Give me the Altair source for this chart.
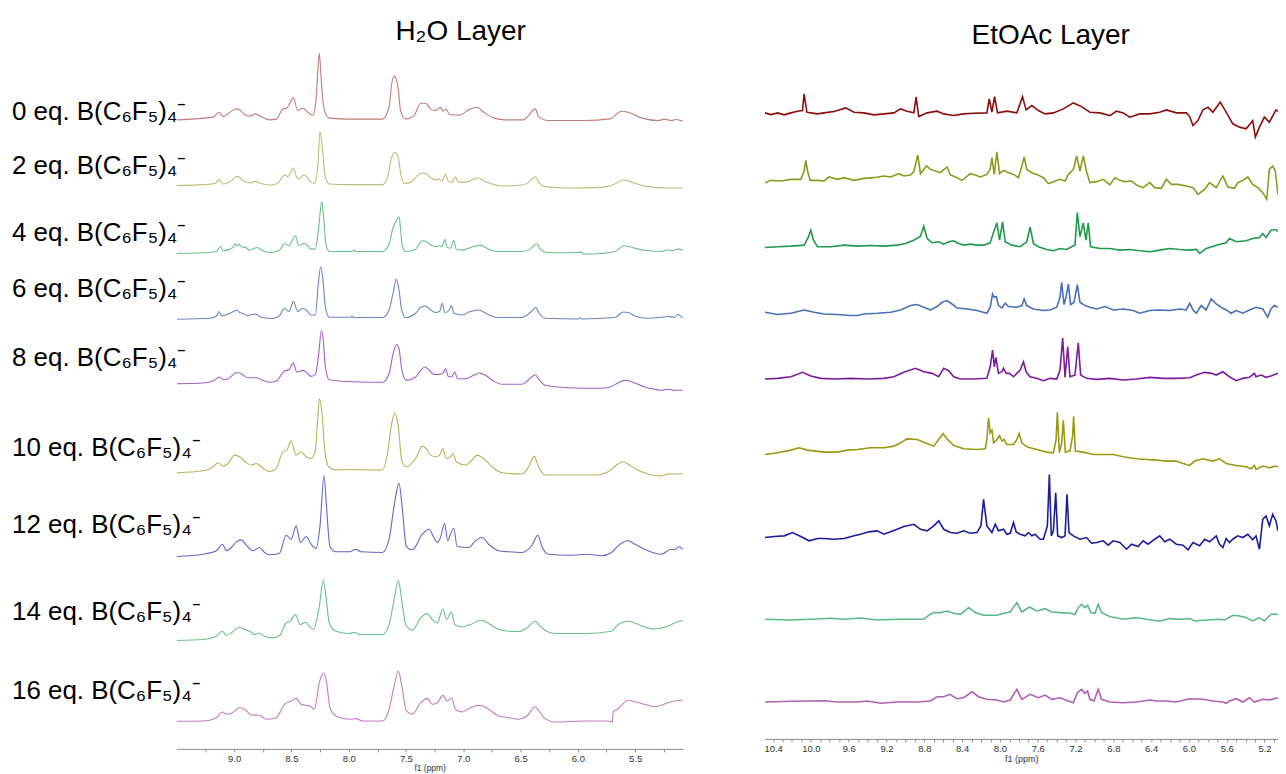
import altair as alt
import pandas as pd

# ---------------- H2O layer spectra: (ppm, intensity above own baseline) ----------------
H2O_0 = [(9.497,0),(9.184,2.7),(9.132,7.7),(9.097,3.3),(9.025,8.7),(8.981,11),(8.938,8.7),(8.909,5.3),
         (8.865,3.7),(8.813,6),(8.764,3.3),(8.691,0),(8.633,0.7),(8.575,11),(8.541,12),(8.483,22),(8.445,9.3),
         (8.401,11.7),(8.358,7.7),(8.314,4.3),(8.286,19),(8.272,45),(8.257,66.7),(8.243,45),(8.228,22),(8.213,10),
         (8.170,1.7),(7.996,0.7),(7.706,0.7),(7.648,12.7),(7.625,36),(7.606,44),(7.590,42),(7.567,30),(7.548,9.3),
         (7.503,1),(7.430,4.3),(7.372,16.7),(7.329,16.7),(7.286,11),(7.242,9.3),(7.199,12.7),(7.178,8.7),
         (7.149,10.7),(7.120,5.3),(7.039,4.7),(6.938,11),(6.880,12.7),(6.822,7.7),(6.735,2),(6.633,0),(6.474,0),
         (6.430,4.3),(6.372,11),(6.343,3.3),(6.257,-0.7),(5.938,-0.7),(5.720,1),(5.619,8.7),(5.561,7.7),
         (5.445,2),(5.300,-0.7),(5.242,0.7),(5.184,-0.7),(5.141,0.3),(5.083,-1.3)]
H2O_2 = [(9.50,0),(9.27,1),(9.17,2.3),(9.13,6),(9.10,1.7),(9.02,5),(8.996,8.3),(8.967,9.3),(8.938,6.7),
         (8.917,5),(8.865,2.7),(8.813,4.3),(8.778,2.7),(8.691,0.7),(8.633,1.7),(8.590,6.7),(8.561,10.7),
         (8.532,9.3),(8.483,17.7),(8.454,8.3),(8.430,6.7),(8.396,10.7),(8.367,9),(8.329,3.3),(8.300,2.3),
         (8.271,18.3),(8.251,54),(8.228,35),(8.204,8.3),(8.170,1.7),(7.981,1),(7.706,1),(7.662,8.3),
         (7.625,28.3),(7.596,33.3),(7.567,28.3),(7.546,11.7),(7.517,2.3),(7.459,3.3),(7.401,10),(7.364,12.7),
         (7.329,12.3),(7.286,8.3),(7.242,5.7),(7.213,6.7),(7.184,5),(7.155,11.7),(7.132,4.3),(7.097,3.3),
         (7.068,9),(7.045,3.3),(6.952,4.3),(6.909,6.7),(6.865,7.7),(6.822,5),(6.749,1.7),(6.662,-0.3),
         (6.488,0.7),(6.430,3.3),(6.372,9),(6.338,3.3),(6.286,-1),(6.083,-2.3),(5.793,-1.7),(5.677,1.7),
         (5.604,5.7),(5.561,5),(5.503,2.3),(5.387,-1),(5.213,-2.3),(5.083,-2.3)]
H2O_4 = [(9.50,-1),(9.27,-0.3),(9.155,1),(9.12,6),(9.097,1.7),(9.01,5),(8.996,8.3),(8.975,6.7),(8.958,8.3),
         (8.938,5.7),(8.90,5),(8.865,2.3),(8.801,5),(8.764,2.7),(8.691,0),(8.604,2.3),(8.561,9),(8.523,6.7),
         (8.465,16.7),(8.436,6.7),(8.393,9),(8.367,7.7),(8.329,3.3),(8.294,3.3),(8.265,21.7),(8.236,51),
         (8.219,35),(8.199,8.3),(8.170,1),(7.967,1),(7.952,2.3),(7.938,1),(7.706,1),(7.648,8.3),(7.613,25),
         (7.584,31.7),(7.561,35.7),(7.546,21.7),(7.532,6.7),(7.503,1),(7.416,3.3),(7.358,11.7),(7.323,11),
         (7.286,7.7),(7.242,5.7),(7.199,6.7),(7.184,5.7),(7.161,13.3),(7.141,5),(7.112,4.3),(7.083,12.3),
         (7.062,3.3),(7.010,2.3),(6.952,4.3),(6.851,7.3),(6.778,3.3),(6.691,1),(6.488,1),(6.416,3.3),
         (6.358,9),(6.329,3.3),(6.271,0),(6.083,-0.3),(5.967,0.3),(5.952,-1.7),(5.793,-1),(5.677,1),
         (5.590,6.7),(5.546,5.7),(5.503,4.3),(5.387,1.7),(5.271,1),(5.213,2.7),(5.184,1.7),(5.126,3.3),(5.083,2.3)]
H2O_6 = [(9.50,0),(9.213,1),(9.155,3.3),(9.132,7.7),(9.109,3.3),(9.025,6.7),(8.996,8.3),(8.972,9.3),
         (8.952,6.7),(8.923,6),(8.888,3.7),(8.813,5.3),(8.764,2),(8.662,0.7),(8.604,3.7),(8.561,11),(8.523,7.7),
         (8.483,17.7),(8.445,7.7),(8.401,11),(8.372,9.3),(8.329,4.3),(8.291,4.3),(8.268,32.7),(8.245,52.7),
         (8.228,42.7),(8.204,12.7),(8.170,2),(7.981,2),(7.972,3.3),(7.961,1.7),(7.706,1.7),(7.648,9.3),
         (7.613,26),(7.584,40),(7.561,29.3),(7.538,9.3),(7.503,1.7),(7.416,6),(7.372,12),(7.329,13.3),
         (7.286,9.3),(7.242,6.7),(7.207,7.7),(7.184,16),(7.161,6.7),(7.126,8.7),(7.103,13.7),(7.083,6),
         (7.010,4.3),(6.938,7.7),(6.865,9.3),(6.793,5.3),(6.706,1.7),(6.488,1.7),(6.416,6.7),(6.367,11.7),
         (6.338,6),(6.286,1),(5.996,0.3),(5.981,1.7),(5.967,0.3),(5.677,1.7),(5.604,7.3),(5.561,6.7),
         (5.503,3.3),(5.387,1),(5.271,2),(5.213,2.7),(5.155,2),(5.132,5),(5.083,1)]
H2O_8 = [(9.50,-0.7),(9.27,0),(9.184,2),(9.126,6),(9.091,3.3),(9.054,4),(8.981,10.3),(8.952,10),(8.880,5.3),
         (8.801,5.3),(8.764,3.3),(8.691,0.7),(8.633,2),(8.561,12),(8.523,13.3),(8.483,20),(8.454,11),
         (8.401,12.7),(8.372,11),(8.329,6.7),(8.291,8.7),(8.262,29.3),(8.239,52.7),(8.222,42.7),(8.204,16),
         (8.170,3.3),(7.967,1.3),(7.706,0.7),(7.648,9.3),(7.613,29.3),(7.584,38.7),(7.561,34.3),(7.538,14.3),
         (7.497,2.7),(7.416,6),(7.372,12.7),(7.335,16),(7.300,13.3),(7.257,8.7),(7.207,8.7),(7.178,10),
         (7.155,14.3),(7.132,6.7),(7.103,6),(7.074,11),(7.051,4.3),(6.981,4.3),(6.909,7.7),(6.859,10),
         (6.807,7.7),(6.735,2),(6.662,-1.3),(6.488,-1.3),(6.430,3.3),(6.372,8.3),(6.338,3.3),(6.286,-2.3),
         (6.083,-4.7),(5.851,-5.3),(5.735,-4.7),(5.662,-0.7),(5.590,2.7),(5.546,2),(5.503,0),(5.416,-4),
         (5.329,-6.3),(5.271,-7.3),(5.213,-6.3),(5.155,-7.3),(5.083,-7.3)]
H2O_10 = [(9.50,0),(9.27,2),(9.184,6),(9.141,10),(9.097,6.7),(9.054,9.3),(8.996,17.7),(8.952,16),(8.894,10),
          (8.851,7.7),(8.807,9.3),(8.764,6),(8.691,1),(8.633,4.3),(8.575,21),(8.541,22.7),(8.503,32),
          (8.459,17.7),(8.416,21),(8.372,16),(8.329,14.3),(8.294,21),(8.271,52.7),(8.257,74.3),(8.233,59.3),
          (8.210,22.7),(8.175,6),(8.112,2.7),(7.996,3.3),(7.706,2.7),(7.662,19.3),(7.625,49.3),(7.599,60),
          (7.567,46),(7.538,12.7),(7.497,6),(7.416,14.3),(7.358,26.7),(7.323,24.3),(7.286,17.7),(7.242,16),
          (7.207,17.7),(7.178,24.3),(7.149,14.3),(7.112,16),(7.088,19.3),(7.062,11),(6.981,7.7),(6.923,12.7),
          (6.880,17.7),(6.822,14.3),(6.749,6),(6.662,0),(6.488,-1.3),(6.430,6),(6.381,16.7),(6.343,6),
          (6.286,-2.3),(6.083,-2.3),(5.851,-2.3),(5.735,1),(5.662,7.7),(5.604,11),(5.561,8.7),(5.503,4.3),
          (5.387,-1.3),(5.271,-3.3),(5.213,-1.3),(5.155,-1.3),(5.083,-0.7)]
H2O_12 = [(9.50,0),(9.27,2.3),(9.155,5.7),(9.103,12.3),(9.068,5.7),(9.025,9),(8.981,14.7),(8.938,16.7),
          (8.894,11.3),(8.836,5.7),(8.778,9),(8.735,4),(8.691,1.7),(8.604,3.3),(8.546,21.3),(8.503,17.3),
          (8.459,30.7),(8.422,14),(8.372,20),(8.329,12.3),(8.286,8),(8.251,30.7),(8.216,81.3),(8.193,47.3),
          (8.164,10),(8.112,4.7),(7.996,4.7),(7.938,7.3),(7.894,4.7),(7.706,4),(7.648,17.3),(7.604,50.7),
          (7.561,73.3),(7.532,47.3),(7.497,10),(7.445,6.7),(7.358,22.3),(7.300,27.3),(7.257,19),(7.228,14),
          (7.199,19),(7.164,33),(7.135,15.7),(7.112,22.3),(7.083,28),(7.054,10),(6.952,9),(6.894,15.7),
          (6.836,19),(6.778,12.3),(6.691,5.7),(6.604,4.7),(6.488,4),(6.401,11.3),(6.349,21.3),(6.314,10),
          (6.257,2.3),(6.083,1.3),(5.909,2.3),(5.793,0.7),(5.706,4),(5.648,10.7),(5.561,15.7),(5.503,12.3),
          (5.387,5.7),(5.271,2.3),(5.184,7.3),(5.155,6.7),(5.120,9.7),(5.083,7.3)]
H2O_14 = [(9.50,-0.3),(9.27,0.7),(9.155,4),(9.103,9),(9.068,4.7),(9.025,7.3),(8.952,13),(8.909,10.7),
          (8.865,9),(8.822,5.7),(8.784,7.3),(8.735,4),(8.662,2.3),(8.604,4.7),(8.546,17.3),(8.512,19),
          (8.465,25.7),(8.425,15.7),(8.378,18),(8.343,14),(8.309,10.7),(8.257,34),(8.222,60),(8.199,44),
          (8.170,17.3),(8.112,9),(7.996,6.7),(7.949,8),(7.909,5.7),(7.706,5.7),(7.648,15.7),(7.604,40.7),
          (7.567,60),(7.538,40.7),(7.503,15.7),(7.445,10),(7.372,22.3),(7.314,26.7),(7.271,20.7),(7.228,17.3),
          (7.178,31.3),(7.146,20.7),(7.103,28.3),(7.074,15.7),(7.010,13.3),(6.938,15.7),(6.851,20),
          (6.778,16.7),(6.691,10.7),(6.604,9),(6.517,8.7),(6.445,12.3),(6.372,19),(6.343,15.7),(6.286,10),
          (6.199,6.7),(5.938,6.7),(5.706,9),(5.648,15.7),(5.561,19),(5.503,17.3),(5.416,13.3),(5.329,11.3),
          (5.271,12.3),(5.213,14),(5.155,17.3),(5.083,20)]
H2O_16 = [(9.50,-0.3),(9.27,0),(9.155,3.3),(9.103,9),(9.068,6.7),(9.025,7.7),(8.952,13.3),(8.909,11.7),
          (8.851,6),(8.778,5.7),(8.720,1.7),(8.633,3.3),(8.561,16.7),(8.503,20),(8.459,22.7),(8.416,16.7),
          (8.372,15.7),(8.329,14.3),(8.300,11.7),(8.257,38.3),(8.219,48.3),(8.193,38.3),(8.164,13.3),
          (8.112,5),(7.996,1.7),(7.938,2.3),(7.880,0),(7.706,0),(7.648,11.7),(7.604,35),(7.567,50),
          (7.532,31.7),(7.497,10),(7.445,6.7),(7.372,18.3),(7.314,22.7),(7.271,16.7),(7.228,18.3),
          (7.178,25.7),(7.141,20),(7.103,23.3),(7.068,11.7),(7.010,9),(6.938,13.3),(6.851,15.7),(6.778,11.7),
          (6.691,5),(6.604,3.3),(6.517,1.7),(6.445,5),(6.372,14.3),(6.338,10),(6.286,2.3),(6.199,-1),
          (5.938,0),(5.735,0),(5.698,-1),(5.692,9),(5.648,12.3),(5.561,20.7),(5.503,19.3),(5.416,16.7),
          (5.329,14.3),(5.271,15.7),(5.213,18.3),(5.155,20),(5.083,21)]

# ---------------- EtOAc layer spectra ----------------
ETOAC_0 = [(10.486,0),(10.423,-1.7),(10.353,0),(10.283,-2),(10.212,0),(10.142,1.7),(10.089,2.3),(10.072,19),
           (10.043,0.7),(10.001,0),(9.931,-1),(9.861,0),(9.755,1.3),(9.632,5),(9.544,0.7),(9.439,0),
           (9.333,-2),(9.228,-1),(9.122,0),(9.052,4),(8.982,1.7),(8.911,0),(8.887,15.7),(8.859,-3.7),
           (8.771,0),(8.665,1.7),(8.595,-1),(8.489,-2.7),(8.384,-1),(8.278,-0.3),(8.138,0),(8.113,14),
           (8.085,0.7),(8.057,16.3),(8.025,0),(7.927,1.7),(7.821,0),(7.761,16.3),(7.723,3),(7.663,7.3),
           (7.593,2.3),(7.522,-1),(7.434,0),(7.329,4),(7.223,10),(7.136,6.3),(7.048,0.7),(6.942,0),
           (6.837,-2.7),(6.766,1.7),(6.696,0),(6.626,-4.3),(6.520,-1),(6.415,-1),(6.309,0.7),(6.239,3),
           (6.133,0),(6.028,0),(5.992,-3.7),(5.957,-12.7),(5.905,-7.7),(5.852,3),(5.799,5.7),(5.747,0.7),
           (5.669,10.7),(5.606,0.7),(5.536,-11),(5.465,-14.3),(5.395,-16),(5.325,-7.7),(5.297,-24.3),
           (5.254,-14.3),(5.202,-4.3),(5.149,-9.3),(5.079,3),(5.058,1.5)]
ETOAC_2 = [(10.486,-1),(10.423,1.3),(10.318,0.7),(10.212,2.3),(10.107,2.3),(10.072,10.7),(10.054,21.3),
           (10.036,10.7),(10.008,1.3),(9.931,1.3),(9.861,0.7),(9.808,4.7),(9.720,2.3),(9.650,4),(9.544,1.3),
           (9.439,3.3),(9.333,4),(9.228,5.7),(9.157,4.7),(9.069,8),(9.017,5.7),(8.946,6.7),(8.911,10),
           (8.869,26.7),(8.841,8),(8.778,15.7),(8.735,12.3),(8.683,10.7),(8.630,9),(8.560,14.7),(8.524,6.7),
           (8.454,4),(8.401,1.3),(8.314,8),(8.261,6.7),(8.208,4.7),(8.138,7.3),(8.103,12.3),(8.085,24),
           (8.060,7.3),(8.032,30),(8.004,8),(7.962,11.3),(7.909,9),(7.856,7.3),(7.804,4),(7.768,15.7),
           (7.744,24.7),(7.716,12.3),(7.663,9),(7.610,7.3),(7.540,4),(7.487,-2),(7.434,0),(7.364,2.3),
           (7.311,0.7),(7.276,7.3),(7.223,12.3),(7.188,25.7),(7.153,10.7),(7.118,25.7),(7.083,10),(7.048,-1),
           (6.977,0),(6.907,2.3),(6.837,-3.3),(6.784,4),(6.731,1.3),(6.678,0),(6.608,0.7),(6.555,-3.3),
           (6.485,-6),(6.415,-1),(6.362,-6),(6.292,-6.7),(6.239,2.3),(6.186,-2.7),(6.116,-2.7),(6.028,-4.3),
           (5.957,-6),(5.905,-12.7),(5.834,-7.7),(5.782,-1),(5.711,-6),(5.641,5.7),(5.588,-5.3),(5.518,-6.7),
           (5.483,-1),(5.430,1.3),(5.377,4.7),(5.325,-2.7),(5.272,-6),(5.219,-11),(5.177,-17.7),(5.149,12.3),
           (5.114,15.7),(5.086,10.7),(5.058,-12.7)]
ETOAC_4 = [(10.486,0),(10.353,0.7),(10.212,1.3),(10.072,2.3),(10.029,10),(10.001,17.3),(9.973,7.3),
           (9.931,0.7),(9.790,0.7),(9.650,2.3),(9.509,1.3),(9.368,2),(9.228,1.3),(9.087,2.3),(8.999,4),
           (8.911,7.3),(8.841,11.3),(8.806,21.3),(8.771,9),(8.718,4.7),(8.648,5.7),(8.595,3.3),(8.542,5.7),
           (8.489,6.7),(8.454,4.7),(8.384,2.3),(8.314,3.3),(8.243,2.3),(8.173,2.3),(8.103,4.7),(8.060,17.3),
           (8.032,24.7),(8.004,7.3),(7.972,25.7),(7.944,5.7),(7.874,2.3),(7.786,0.7),(7.716,5.7),(7.681,20.7),
           (7.646,4),(7.593,0.7),(7.505,-2),(7.434,-3.3),(7.364,-1),(7.294,-2),(7.241,0.7),(7.206,2.3),
           (7.181,35),(7.153,10.7),(7.118,24.7),(7.090,7.3),(7.065,24.7),(7.041,0.7),(6.942,-1),(6.837,-1),
           (6.731,-2.7),(6.626,-2),(6.520,-3.3),(6.415,-4.3),(6.309,-2.7),(6.204,-1),(6.098,-2),(5.992,-2.7),
           (5.922,-2),(5.887,-6),(5.816,-1),(5.711,2.3),(5.606,4.7),(5.571,9),(5.500,5.7),(5.395,6.7),
           (5.325,9),(5.254,10),(5.219,14),(5.184,10),(5.132,17.3),(5.079,18),(5.058,15.7)]
ETOAC_6 = [(10.486,0),(10.353,-2.3),(10.212,-1),(10.072,2.3),(9.966,0),(9.861,-1.7),(9.720,-2.3),
           (9.579,-3.3),(9.509,-3.3),(9.439,-1.7),(9.298,-1),(9.157,0),(9.052,2.3),(8.946,6.7),(8.876,7.7),
           (8.806,5),(8.735,2.3),(8.665,5.7),(8.612,10),(8.560,11.7),(8.507,8.3),(8.454,4.3),(8.349,3.3),
           (8.243,1.7),(8.138,-1),(8.103,5),(8.078,18.3),(8.060,15),(8.039,15.7),(8.015,6.7),(7.979,4.3),
           (7.944,9),(7.909,5.7),(7.821,5),(7.768,6.7),(7.744,13.3),(7.716,6.7),(7.646,3.3),(7.540,1.7),
           (7.470,2.3),(7.399,5),(7.364,15),(7.347,30),(7.322,7.7),(7.301,15),(7.276,28.3),(7.252,7.7),
           (7.216,10),(7.181,27.7),(7.153,10),(7.101,6.7),(7.048,5),(6.977,3.3),(6.889,5.7),(6.801,2.3),
           (6.696,3.3),(6.590,1.7),(6.520,-1),(6.415,1.7),(6.309,2.3),(6.204,1.7),(6.098,3.3),(6.028,2.3),
           (5.992,9),(5.957,2.3),(5.922,-1),(5.870,6.7),(5.817,2.3),(5.764,13.3),(5.711,8.3),(5.659,5),
           (5.606,2.3),(5.553,-1),(5.500,1.7),(5.430,-1),(5.360,2.3),(5.290,5),(5.219,3.3),(5.167,-5),
           (5.132,3.3),(5.096,6.7),(5.058,5)]
ETOAC_8 = [(10.486,0),(10.353,0.7),(10.212,2.3),(10.089,6.7),(10.001,3),(9.896,0.7),(9.755,0),(9.579,0.7),
           (9.404,0),(9.228,0.7),(9.122,2.3),(9.017,6.7),(8.894,10.7),(8.806,7.3),(8.718,5.7),(8.648,2.3),
           (8.595,10.7),(8.542,8.3),(8.489,2.3),(8.419,0),(8.278,0),(8.138,0.7),(8.103,12.3),(8.078,29),
           (8.060,12.3),(8.043,21.7),(8.015,5.7),(7.979,7.3),(7.962,10.7),(7.934,5.7),(7.899,5.7),(7.856,2.3),
           (7.786,9),(7.751,17.3),(7.723,7.3),(7.681,2.3),(7.610,0.7),(7.540,-1.7),(7.470,0.7),(7.399,0),
           (7.364,9),(7.336,41),(7.311,1.7),(7.283,32.3),(7.259,2.3),(7.206,4),(7.171,36.3),(7.146,4),
           (7.083,0.7),(6.977,-0.3),(6.837,0.7),(6.696,-1),(6.555,0),(6.415,1.7),(6.274,0.7),(6.133,0.7),
           (5.992,1.3),(5.922,4),(5.834,6.7),(5.764,5.7),(5.711,4),(5.641,7.3),(5.571,2.3),(5.500,-1.7),
           (5.430,0.7),(5.360,1.7),(5.307,5.7),(5.290,2.3),(5.237,4),(5.184,1.7),(5.132,3),(5.079,5),(5.058,5.7)]
ETOAC_10 = [(10.486,-0.7),(10.353,1),(10.212,3.7),(10.124,6),(10.036,3.7),(9.861,1.7),(9.720,1.7),
            (9.614,3.7),(9.509,4.3),(9.368,6),(9.228,6),(9.122,7.7),(9.052,11),(8.982,15),(8.876,14.3),
            (8.771,10.3),(8.700,7.7),(8.648,14.3),(8.602,20.3),(8.560,15),(8.489,8.3),(8.384,5),(8.243,4.3),
            (8.155,5),(8.138,14.3),(8.120,36),(8.103,21),(8.085,23.7),(8.067,11),(8.032,14.3),(8.004,18.3),
            (7.979,12.7),(7.955,14.3),(7.927,9.3),(7.856,9.3),(7.821,14.3),(7.797,20.3),(7.768,11),(7.716,7),
            (7.610,4.3),(7.505,1.7),(7.434,1),(7.406,14.3),(7.392,41.7),(7.371,1),(7.346,11),(7.329,33.7),
            (7.308,1.7),(7.259,2.7),(7.231,17.7),(7.220,37.7),(7.202,2.7),(7.118,1.7),(7.012,-0.7),
            (6.907,-0.7),(6.802,-0.7),(6.696,-3),(6.555,-5),(6.450,-5.7),(6.345,-6.3),(6.239,-7.3),
            (6.133,-7.3),(6.063,-9.7),(5.992,-11.7),(5.940,-7.3),(5.852,-5),(5.746,-7.3),(5.676,-5),
            (5.606,-9.7),(5.500,-11.7),(5.395,-13),(5.342,-15),(5.307,-11.7),(5.290,-15.7),(5.219,-12.3),
            (5.149,-14),(5.079,-12.3),(5.058,-13)]
ETOAC_12 = [(10.486,0),(10.388,1),(10.283,1.7),(10.195,5),(10.107,1),(10.019,-3.3),(9.931,-1),(9.861,-1),
            (9.755,-1.7),(9.650,-1),(9.544,1.7),(9.474,3.3),(9.386,5.7),(9.298,6.7),(9.228,3.3),(9.157,5.7),
            (9.087,8.3),(9.017,11),(8.911,13.3),(8.841,8.3),(8.771,6.7),(8.700,11.7),(8.648,16.7),(8.595,8.3),
            (8.524,5),(8.454,4.3),(8.384,6.7),(8.314,4.3),(8.243,5),(8.201,11.7),(8.173,38.3),(8.138,11.7),
            (8.085,5),(8.050,13.3),(8.015,6.7),(7.962,8.3),(7.927,3.3),(7.891,4.3),(7.856,15),(7.828,5.7),
            (7.786,3.3),(7.733,1.7),(7.698,5),(7.663,1.7),(7.628,3.3),(7.575,-1.7),(7.540,-1.7),(7.498,11.7),
            (7.477,63.3),(7.456,1.7),(7.434,6.7),(7.410,45),(7.389,1.7),(7.347,0),(7.311,1.7),(7.290,43.3),
            (7.269,5),(7.223,1.7),(7.153,-1.7),(7.083,0),(7.030,-5.7),(6.977,-5),(6.907,-3.3),(6.854,-7.7),
            (6.802,-3.3),(6.731,-5),(6.661,-11.7),(6.608,-6.7),(6.538,-9),(6.485,-3.3),(6.432,-6.7),
            (6.362,-1.7),(6.309,1.7),(6.257,-4.3),(6.204,-1.7),(6.133,-6.7),(6.063,-7.7),(6.010,-12.3),
            (5.957,-5),(5.887,-8.3),(5.834,-1.7),(5.782,-4.3),(5.711,1.7),(5.676,-6.7),(5.641,-10),
            (5.606,-1),(5.571,-5),(5.536,-1.7),(5.483,1.7),(5.430,0),(5.377,3.3),(5.325,-2.3),(5.290,1.7),
            (5.254,-11.7),(5.219,18.3),(5.184,21.7),(5.149,11.7),(5.114,23.3),(5.079,16.7),(5.058,6.7)]
ETOAC_14 = [(10.486,0),(10.212,-0.7),(10.001,0),(9.790,1),(9.650,0),(9.474,1.3),(9.298,-0.7),(9.087,0),
            (8.806,0),(8.753,4),(8.700,6.7),(8.630,6.7),(8.560,8.3),(8.489,6),(8.419,5),(8.331,11.7),
            (8.261,6.7),(8.173,4),(8.032,4),(7.962,6),(7.892,7.3),(7.821,16.7),(7.768,7.3),(7.688,12.3),
            (7.610,8.3),(7.522,10.7),(7.452,7.3),(7.364,6.7),(7.259,6),(7.206,5),(7.171,11.7),(7.136,15),
            (7.100,11.7),(7.072,14),(7.037,6.7),(6.995,6),(6.960,15),(6.925,6.7),(6.837,2.7),(6.696,0),
            (6.555,1.7),(6.450,0),(6.309,-2),(6.204,0.7),(6.098,0),(5.992,0.7),(5.940,-1.7),(5.817,-0.7),
            (5.676,0),(5.623,-0.7),(5.536,4),(5.465,3.3),(5.395,1.7),(5.325,-1.7),(5.254,1.7),(5.202,-1.7),
            (5.131,5),(5.058,5)]
ETOAC_16 = [(10.486,0),(10.212,0.7),(9.861,1.3),(9.720,0),(9.509,0),(9.404,1),(9.263,-1.3),(9.087,0),
            (8.876,0),(8.735,1),(8.665,5.3),(8.595,5.3),(8.532,7.7),(8.454,3.3),(8.384,4.3),(8.296,10.3),
            (8.226,5.3),(8.138,2.7),(8.032,2),(7.962,0),(7.892,2),(7.821,12.7),(7.768,2.7),(7.681,7.7),
            (7.593,4.3),(7.522,7),(7.452,2.7),(7.364,4.3),(7.276,1),(7.223,-0.7),(7.181,9.3),(7.136,12.7),
            (7.100,8.7),(7.072,11),(7.048,2.7),(7.005,1),(6.960,12.7),(6.925,2.7),(6.837,0),(6.696,-0.7),
            (6.555,0),(6.415,2),(6.345,1),(6.239,1),(6.133,0),(5.992,3.3),(5.852,2.7),(5.746,1),(5.641,0),
            (5.606,-1.3),(5.571,1),(5.500,3.3),(5.430,0),(5.360,4.3),(5.307,0),(5.219,2.7),(5.149,2),(5.058,4.3)]

EQUIV = [0, 2, 4, 6, 8, 10, 12, 14, 16]
H2O_TRACES = [H2O_0, H2O_2, H2O_4, H2O_6, H2O_8, H2O_10, H2O_12, H2O_14, H2O_16]
ETOAC_TRACES = [ETOAC_0, ETOAC_2, ETOAC_4, ETOAC_6, ETOAC_8, ETOAC_10, ETOAC_12, ETOAC_14, ETOAC_16]
LABELS = [f"{e} eq. B(C\u2086F\u2085)\u2084\u207b" for e in EQUIV]

H2O_COLORS = ["#c47a7a", "#bcbd78", "#6cc08c", "#6a85c0", "#a45fc4", "#b3b35a", "#6666c6", "#6cbf8f", "#c27ac6"]
ETOAC_COLORS = ["#8b0d0d", "#8c9a1e", "#1f9a4c", "#4a70b8", "#7c1c9c", "#9a9a12", "#1c1c9a", "#5cb88a", "#b060b0"]

# vertical stacking (baseline level of every trace, in intensity units from the panel bottom)
H2O_OFFSETS = [631, 565, 498, 431, 367, 277, 193, 109, 28]
ETOAC_OFFSETS = [628, 559, 493, 428, 361, 286, 202, 120, 37]
LABEL_LEVELS = [631, 577, 509, 453, 384, 294, 217, 129, 50]

H2O_TICKS = [9.25, 9.0, 8.75, 8.5, 8.25, 8.0, 7.75, 7.5, 7.25, 7.0, 6.75, 6.5, 6.25, 6.0, 5.75, 5.5, 5.25]
ETOAC_TICKS = [round(10.4 - 0.1 * i, 1) for i in range(54)]

LEFT_W, LEFT_H = 508, 737
RIGHT_W, RIGHT_H = 515, 727
FONT = "Liberation Sans"


def frame(traces, offsets, names):
    rows = []
    for name, tr, off in zip(names, traces, offsets):
        for i, (p, v) in enumerate(tr):
            rows.append({"trace": name, "ppm": p, "y": off + v, "i": i})
    return pd.DataFrame(rows)


names = [f"{e} eq" for e in EQUIV]
df_left = frame(H2O_TRACES, H2O_OFFSETS, names)
df_right = frame(ETOAC_TRACES, ETOAC_OFFSETS, names)
df_labels = pd.DataFrame({"label": LABELS, "level": LABEL_LEVELS})

y_left = alt.Y("y:Q", scale=alt.Scale(domain=[0, LEFT_H], nice=False, zero=False), axis=None)
y_right = alt.Y("y:Q", scale=alt.Scale(domain=[0, RIGHT_H], nice=False, zero=False), axis=None)

x_left = alt.X(
    "ppm:Q",
    scale=alt.Scale(domain=[9.504, 5.083], nice=False, zero=False),
    axis=alt.Axis(values=H2O_TICKS, title="f1 (ppm)", grid=False,
                  labelExpr="datum.value % 0.5 == 0 ? format(datum.value, '.1f') : ''",
                  labelFontSize=9.5, titleFontSize=8.5, titlePadding=0),
)
x_right = alt.X(
    "ppm:Q",
    scale=alt.Scale(domain=[10.49, 10.49 - RIGHT_W / 94.8], nice=False, zero=False),
    axis=alt.Axis(values=ETOAC_TICKS, title="f1 (ppm)", grid=False,
                  labelExpr="round(datum.value * 10) % 4 == 0 ? format(datum.value, '.1f') : ''",
                  labelFontSize=9.5, titleFontSize=9, titlePadding=1),
)

left_lines = alt.Chart(df_left).mark_line(strokeWidth=1.1, clip=True, interpolate="monotone").encode(
    x=x_left, y=y_left,
    color=alt.Color("trace:N", scale=alt.Scale(domain=names, range=H2O_COLORS), legend=None),
    order="i:Q",
)
left_labels = alt.Chart(df_labels).mark_text(
    align="left", baseline="alphabetic", fontSize=26, font=FONT, color="black"
).encode(x=alt.value(-165), y=alt.Y("level:Q", scale=alt.Scale(domain=[0, LEFT_H], nice=False, zero=False), axis=None),
         text="label:N")
left_title = alt.Chart(pd.DataFrame({"t": ["H\u2082O Layer"]})).mark_text(
    align="center", baseline="alphabetic", fontSize=28, font=FONT, color="black"
).encode(x=alt.value(285), y=alt.value(26), text="t:N")

right_lines = alt.Chart(df_right).mark_line(strokeWidth=1.6, clip=True).encode(
    x=x_right, y=y_right,
    color=alt.Color("trace:N", scale=alt.Scale(domain=names, range=ETOAC_COLORS), legend=None),
    order="i:Q",
)
right_title = alt.Chart(pd.DataFrame({"t": ["EtOAc Layer"]})).mark_text(
    align="center", baseline="alphabetic", fontSize=28, font=FONT, color="black"
).encode(x=alt.value(287), y=alt.value(30), text="t:N")

left = alt.layer(left_lines, left_labels, left_title).resolve_scale(color="independent").properties(
    width=LEFT_W, height=LEFT_H)
right = alt.layer(right_lines, right_title).properties(width=RIGHT_W, height=RIGHT_H)

chart = alt.hconcat(left, right, spacing=82, bounds="flush").resolve_scale(
    color="independent", x="independent", y="independent"
).properties(
    padding={"left": 4, "top": 5, "right": 0, "bottom": 0}
).configure_view(stroke=None).configure_axis(
    labelFont=FONT, titleFont=FONT, labelColor="#333", titleColor="#333",
    titleFontWeight="normal", domainColor="#8a8a8a", tickColor="#8a8a8a",
    tickSize=3, labelPadding=2,
)

chart.save("out.html", embed_options={"renderer": "svg", "actions": False})
